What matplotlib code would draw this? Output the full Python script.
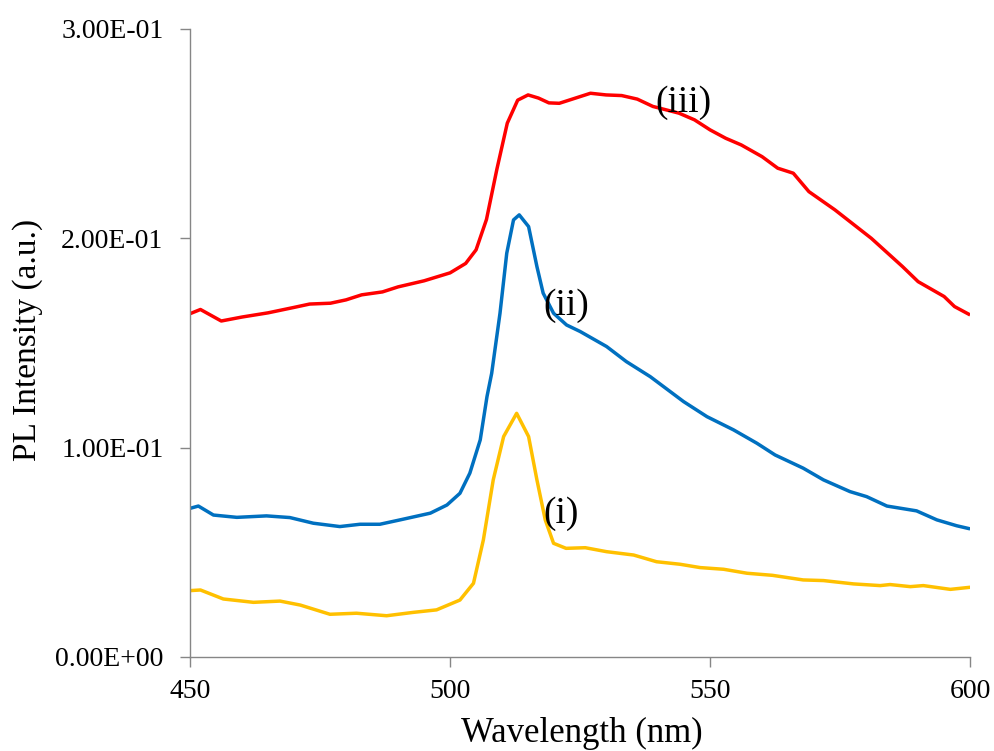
import matplotlib
matplotlib.use("Agg")
import matplotlib.pyplot as plt
from matplotlib.ticker import FuncFormatter

# Спектры ФЛ, значения
wl_i = [450, 452, 456.4, 462.2, 467.3, 471.2, 476.9, 482, 487.8, 492.9, 497.4, 501.9,
        504.5, 506.4, 508.3, 510.3, 512.8, 515.1, 516.7, 518.3, 519.9, 522.3, 526,
        530.1, 535.3, 539.7, 544.2, 548.1, 552.6, 557.1, 562, 567.9, 571.8, 577.6,
        582.7, 584.6, 588.5, 591, 596.2, 600]
pl_i = [0.0317, 0.0320, 0.0277, 0.0261, 0.0267, 0.0248, 0.0204, 0.0209, 0.0197, 0.0213,
        0.0225, 0.0272, 0.0352, 0.0559, 0.0846, 0.1053, 0.1164, 0.1053, 0.0846, 0.0655,
        0.0543, 0.0519, 0.0522, 0.0503, 0.0487, 0.0455, 0.0443, 0.0427, 0.0419, 0.0400,
        0.0390, 0.0368, 0.0365, 0.0349, 0.0341, 0.0346, 0.0336, 0.0341, 0.0323, 0.0333]

wl_ii = [450, 451.6, 454.5, 459, 464.7, 469.2, 473.7, 478.8, 482.7, 486.5, 490.4, 496.2,
         499.4, 501.9, 503.8, 505.8, 507.1, 508, 509.6, 510.9, 512.2, 513.3, 515.1,
         516.7, 517.9, 519.9, 522.4, 525, 530.1, 533.9, 538.5, 544.9, 549.4, 554.5,
         559, 562.5, 567.9, 571.8, 576.9, 580.1, 584, 589.7, 593.6, 597.4, 600]
pl_ii = [0.0710, 0.0721, 0.0678, 0.0667, 0.0674, 0.0666, 0.0639, 0.0623, 0.0634, 0.0634,
         0.0655, 0.0687, 0.0726, 0.0782, 0.0878, 0.1037, 0.1244, 0.1355, 0.1642, 0.1929,
         0.2088, 0.2112, 0.2056, 0.1865, 0.1738, 0.1642, 0.1586, 0.1555, 0.1483, 0.1411,
         0.1339, 0.1220, 0.1148, 0.1085, 0.1021, 0.0965, 0.0902, 0.0846, 0.0790, 0.0766,
         0.0721, 0.0698, 0.0655, 0.0627, 0.0612]

wl_iii = [450, 452, 456, 460, 465, 470, 473, 477, 480, 483, 487, 490, 495, 500, 503, 505,
          507, 509, 511, 513, 515, 517, 519, 521, 524, 527, 530, 533, 536, 539, 544, 547,
          550, 553, 556, 560, 563, 566, 569, 574, 581, 587, 590, 595, 597, 600]
pl_iii = [0.1640, 0.1660, 0.1605, 0.1624, 0.1644, 0.1670, 0.1686, 0.1690, 0.1706, 0.1730,
          0.1744, 0.1768, 0.1797, 0.1835, 0.1880, 0.1945, 0.2090, 0.2330, 0.2550, 0.2660,
          0.2685, 0.2670, 0.2647, 0.2645, 0.2669, 0.2693, 0.2685, 0.2682, 0.2665, 0.2630,
          0.2598, 0.2566, 0.2518, 0.2478, 0.2446, 0.2390, 0.2335, 0.2311, 0.2223, 0.2136,
          0.2000, 0.1865, 0.1793, 0.1722, 0.1674, 0.1634]

x_ticks = [450, 500, 550, 600]
y_ticks = [0.0, 0.1, 0.2, 0.3]

plt.rcParams['font.family'] = ['Liberation Serif', 'DejaVu Serif']

fig = plt.figure(figsize=(9.95, 7.51), dpi=100)
ax = fig.add_axes([0.191, 0.1252, 0.784, 0.8362])

ax.plot(wl_i, pl_i, color='#FFC000', lw=2.5, solid_capstyle='butt')
ax.plot(wl_ii, pl_ii, color='#0070C0', lw=2.5, solid_capstyle='butt')
ax.plot(wl_iii, pl_iii, color='#FF0000', lw=2.5, solid_capstyle='butt')

# подписи кривых
ax.text(539.4, 0.265, '(iii)', fontsize=27, ha='left', va='center')
ax.text(517.9, 0.168, '(ii)', fontsize=27, ha='left', va='center')
ax.text(517.9, 0.0686, '(i)', fontsize=27, ha='left', va='center')

ax.set_xlim(450, 600)
ax.set_ylim(0, 0.3)
ax.set_xticks(x_ticks)
ax.set_yticks(y_ticks)
ax.yaxis.set_major_formatter(FuncFormatter(lambda v, p: f"{v:.2E}"))

for side in ['top', 'right']:
    ax.spines[side].set_visible(False)
for side in ['left', 'bottom']:
    ax.spines[side].set_color('#868686')
    ax.spines[side].set_linewidth(1.0)
ax.tick_params(axis='both', direction='out', length=7.2, width=1.0, color='#868686',
               labelsize=20)
ax.tick_params(axis='y', pad=12)
ax.tick_params(axis='x', pad=9)

fig.text(582 / 995, 1 - 733 / 751, 'Wavelength (nm)', fontsize=25, ha='center', va='center')
fig.text(28 / 995, 1 - 340 / 751, 'PL Intensity (a.u.)', fontsize=24, ha='center', va='center',
         rotation=90)

fig.savefig('out.png', dpi=100)
